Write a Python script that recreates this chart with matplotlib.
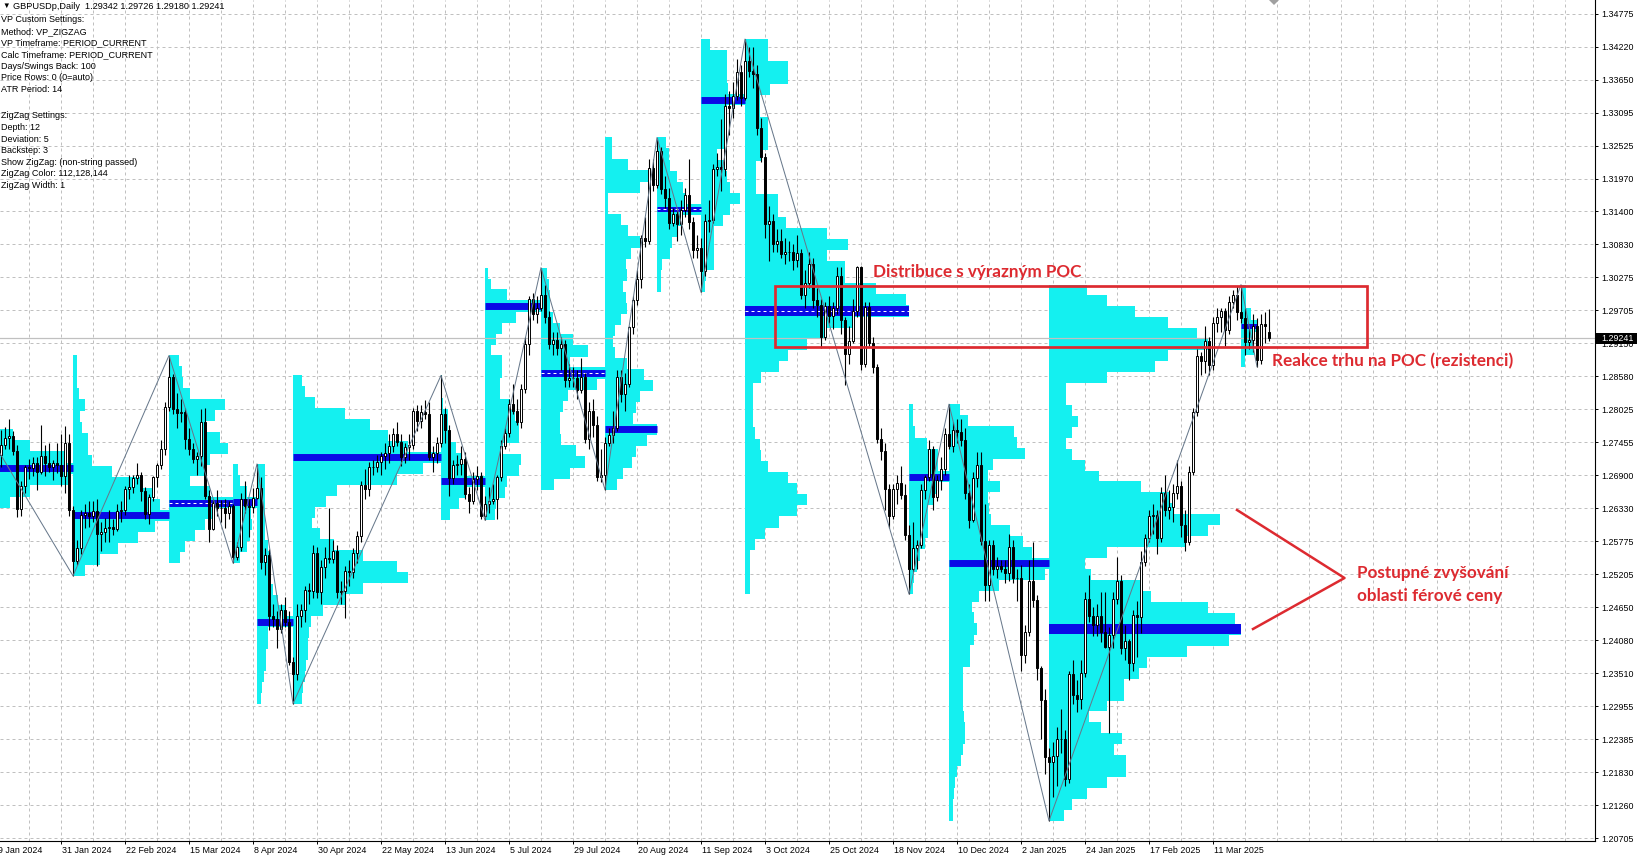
import matplotlib.pyplot as plt
from matplotlib.patches import Rectangle, Polygon
from matplotlib.lines import Line2D
from matplotlib.transforms import blended_transform_factory
import numpy as np

plt.rcParams['font.family'] = ['Liberation Sans', 'DejaVu Sans']

#%% data - GBPUSD daily bars 9 Jan 2024 .. 31 Mar 2025, pips above 1.2000

opens = [
    727, 724, 741, 753, 757, 731, 632, 672, 703, 702,
    710, 695, 722, 710, 704, 710, 707, 689, 745, 631,
    544, 565, 622, 626, 620, 628, 590, 593, 600, 601,
    598, 628, 631, 666, 670, 685, 690, 662, 624, 652,
    686, 708, 735, 806, 857, 802, 796, 797, 752, 734,
    718, 722, 781, 654, 598, 643, 634, 634, 625, 637,
    550, 567, 650, 638, 635, 651, 668, 541, 553, 450,
    444, 427, 459, 440, 371, 351, 450, 460, 494, 492,
    557, 491, 533, 548, 546, 561, 490, 493, 527, 524,
    557, 586, 673, 666, 703, 703, 712, 723, 728, 739,
    760, 746, 720, 738, 742, 800, 782, 798, 795, 720,
    728, 745, 795, 767, 685, 707, 709, 718, 657, 645,
    683, 688, 620, 640, 645, 650, 686, 740, 762, 811,
    800, 780, 837, 914, 990, 965, 975, 998, 960, 914,
    921, 906, 914, 853, 856, 855, 835, 857, 752, 800,
    776, 687, 690, 745, 759, 771, 857, 829, 845, 942,
    988, 1025, 1094, 1090, 1214, 1185, 1243, 1178, 1163, 1120,
    1135, 1118, 1143, 1168, 1122, 1074, 1078, 1039, 1123, 1125,
    1213, 1216, 1212, 1319, 1317, 1337, 1377, 1334, 1396, 1379,
    1375, 1283, 1232, 1118, 1124, 1085, 1089, 1068, 1070, 1070,
    1057, 1069, 998, 1017, 1050, 988, 981, 926, 978, 962,
    975, 1030, 955, 896, 918, 970, 1045, 880, 977, 916,
    875, 751, 731, 667, 620, 666, 676, 656, 588, 530,
    566, 570, 664, 687, 735, 653, 681, 701, 760, 740,
    767, 763, 750, 660, 614, 685, 707, 578, 502, 571,
    530, 534, 530, 523, 568, 515, 514, 383, 423, 510,
    477, 360, 307, 209, 200, 211, 240, 239, 171, 350,
    315, 308, 352, 479, 449, 434, 450, 422, 397, 417,
    478, 509, 395, 406, 369, 451, 448, 542, 582, 620,
    622, 583, 660, 630, 635, 660, 672, 605, 576, 696,
    797, 893, 885, 918, 878, 950, 959, 970, 937, 986,
    998, 968, 958, 917, 921, 944, 886, 947, 934,
]
highs = [
    740, 767, 772, 785, 765, 741, 680, 708, 718, 720,
    720, 775, 742, 745, 716, 745, 760, 773, 760, 638,
    580, 630, 640, 646, 645, 650, 610, 616, 630, 615,
    640, 645, 672, 690, 690, 710, 695, 670, 658, 688,
    710, 750, 815, 894, 862, 830, 820, 805, 770, 745,
    730, 803, 805, 665, 650, 665, 648, 650, 645, 640,
    575, 660, 680, 650, 668, 709, 686, 565, 563, 470,
    458, 470, 482, 458, 380, 470, 470, 500, 505, 570,
    568, 545, 567, 634, 580, 570, 510, 535, 545, 565,
    595, 680, 700, 712, 715, 725, 730, 745, 760, 770,
    780, 760, 745, 760, 805, 810, 810, 818, 815, 740,
    755, 860, 805, 775, 715, 725, 740, 730, 670, 695,
    705, 695, 655, 670, 675, 690, 750, 770, 820, 845,
    820, 845, 925, 995, 1000, 995, 1044, 1015, 970, 935,
    935, 925, 920, 880, 875, 870, 890, 865, 815, 820,
    790, 735, 755, 770, 800, 870, 870, 865, 945, 995,
    1040, 1100, 1130, 1230, 1230, 1266, 1250, 1200, 1180, 1145,
    1140, 1160, 1180, 1230, 1130, 1100, 1095, 1135, 1160, 1220,
    1240, 1298, 1340, 1345, 1360, 1400, 1390, 1434, 1420, 1420,
    1390, 1300, 1240, 1150, 1135, 1110, 1110, 1095, 1090, 1085,
    1100, 1075, 1040, 1070, 1060, 1010, 990, 985, 995, 985,
    1045, 1045, 960, 945, 990, 1047, 1047, 985, 985, 925,
    880, 770, 745, 675, 675, 690, 705, 675, 605, 610,
    580, 675, 690, 750, 740, 690, 720, 770, 811, 780,
    785, 785, 770, 675, 695, 730, 730, 640, 580, 580,
    550, 545, 545, 590, 580, 530, 537, 435, 545, 575,
    485, 365, 325, 225, 235, 260, 290, 255, 355, 375,
    340, 375, 490, 520, 465, 470, 490, 490, 430, 490,
    550, 520, 435, 410, 460, 475, 560, 590, 630, 640,
    630, 670, 690, 665, 675, 715, 680, 630, 705, 805,
    905, 900, 945, 925, 960, 975, 975, 975, 995, 1005,
    1012, 1015, 975, 945, 965, 958, 965, 968, 973,
]
lows = [
    700, 704, 735, 735, 725, 618, 620, 660, 683, 688,
    665, 692, 688, 695, 682, 693, 672, 660, 620, 518,
    537, 555, 600, 602, 610, 535, 560, 575, 576, 588,
    594, 610, 622, 650, 660, 675, 645, 615, 607, 645,
    670, 700, 725, 800, 795, 770, 780, 735, 725, 710,
    690, 705, 650, 575, 597, 620, 610, 600, 615, 540,
    545, 560, 625, 585, 625, 650, 530, 520, 425, 430,
    395, 420, 430, 366, 300, 340, 430, 440, 470, 480,
    480, 470, 515, 540, 540, 480, 470, 446, 500, 515,
    540, 575, 650, 655, 690, 695, 690, 700, 710, 730,
    740, 705, 710, 715, 735, 765, 770, 785, 715, 695,
    710, 738, 745, 655, 675, 690, 690, 650, 625, 640,
    665, 615, 613, 625, 640, 615, 680, 735, 755, 795,
    775, 770, 830, 895, 955, 950, 970, 950, 905, 895,
    895, 870, 840, 840, 840, 820, 830, 745, 735, 755,
    680, 678, 665, 740, 745, 765, 815, 800, 840, 930,
    980, 1010, 1080, 1085, 1175, 1180, 1170, 1145, 1110, 1115,
    1090, 1100, 1130, 1110, 1060, 1060, 1002, 1030, 1105, 1120,
    1200, 1175, 1200, 1270, 1300, 1330, 1320, 1330, 1370, 1350,
    1270, 1225, 1095, 1055, 1070, 1070, 1060, 1050, 1055, 1040,
    1045, 990, 975, 1010, 975, 960, 906, 920, 950, 940,
    965, 930, 844, 880, 915, 960, 870, 875, 910, 865,
    745, 715, 630, 600, 615, 640, 650, 580, 487, 525,
    530, 565, 650, 680, 630, 645, 665, 690, 735, 730,
    745, 740, 650, 600, 610, 670, 570, 475, 475, 520,
    515, 525, 505, 510, 505, 475, 355, 370, 415, 465,
    340, 240, 180, 100, 140, 160, 215, 160, 165, 300,
    285, 290, 345, 440, 415, 415, 405, 395, 249, 395,
    470, 385, 375, 340, 355, 380, 420, 535, 575, 590,
    555, 575, 620, 615, 610, 650, 585, 560, 570, 690,
    790, 860, 865, 860, 870, 935, 935, 910, 930, 975,
    955, 950, 895, 905, 900, 875, 880, 915, 918,
]
closes = [
    724, 741, 753, 757, 731, 632, 672, 703, 702, 710,
    695, 722, 710, 704, 710, 707, 689, 745, 631, 544,
    565, 622, 626, 620, 628, 590, 593, 600, 601, 598,
    628, 631, 666, 670, 685, 690, 662, 624, 652, 686,
    708, 735, 806, 857, 802, 796, 797, 752, 734, 718,
    722, 781, 654, 598, 643, 634, 634, 625, 637, 550,
    567, 650, 638, 635, 651, 668, 541, 553, 450, 444,
    427, 459, 440, 371, 351, 450, 460, 494, 492, 557,
    491, 533, 548, 546, 561, 490, 493, 527, 524, 557,
    586, 673, 666, 703, 703, 712, 723, 728, 739, 760,
    746, 720, 738, 742, 800, 782, 798, 795, 720, 728,
    745, 795, 767, 685, 707, 709, 718, 657, 645, 683,
    688, 620, 640, 645, 650, 686, 740, 762, 811, 800,
    780, 837, 914, 990, 965, 975, 998, 960, 914, 921,
    906, 914, 853, 856, 855, 835, 857, 752, 800, 776,
    687, 690, 745, 759, 771, 857, 829, 845, 942, 988,
    1025, 1094, 1090, 1214, 1185, 1243, 1178, 1163, 1120, 1135,
    1118, 1143, 1168, 1122, 1074, 1078, 1039, 1123, 1125, 1213,
    1216, 1212, 1319, 1317, 1337, 1377, 1334, 1396, 1379, 1375,
    1283, 1232, 1118, 1124, 1085, 1089, 1068, 1070, 1070, 1057,
    1069, 998, 1017, 1050, 988, 981, 926, 978, 962, 975,
    1030, 955, 896, 918, 970, 1045, 880, 977, 916, 875,
    751, 731, 667, 620, 666, 676, 656, 588, 530, 566,
    570, 664, 687, 735, 653, 681, 701, 760, 740, 767,
    763, 750, 660, 614, 685, 707, 578, 502, 571, 530,
    534, 530, 523, 568, 515, 514, 383, 423, 510, 477,
    360, 307, 209, 200, 211, 240, 239, 171, 350, 315,
    308, 352, 479, 449, 434, 450, 422, 397, 417, 478,
    509, 395, 406, 369, 451, 448, 542, 582, 620, 622,
    583, 660, 630, 635, 660, 672, 605, 576, 696, 797,
    893, 885, 918, 878, 950, 959, 970, 937, 986, 998,
    968, 958, 917, 921, 944, 886, 947, 944, 924,
]

date_labels = ["9 Jan 2024", "31 Jan 2024", "22 Feb 2024", "15 Mar 2024", "8 Apr 2024",
               "30 Apr 2024", "22 May 2024", "13 Jun 2024", "5 Jul 2024", "29 Jul 2024",
               "20 Aug 2024", "11 Sep 2024", "3 Oct 2024", "25 Oct 2024", "18 Nov 2024",
               "10 Dec 2024", "2 Jan 2025", "24 Jan 2025", "17 Feb 2025", "11 Mar 2025"]
price_labels = ["1.34775", "1.34220", "1.33650", "1.33095", "1.32525", "1.31970", "1.31400",
                "1.30830", "1.30275", "1.29705", "1.29150", "1.28580", "1.28025", "1.27455",
                "1.26900", "1.26330", "1.25775", "1.25205", "1.24650", "1.24080", "1.23510",
                "1.22955", "1.22385", "1.21830", "1.21260", "1.20705"]

# zigzag swing points (bar index, price)
zz_bars = [-8, 19, 43, 59, 65, 74, 111, 122, 136, 152, 165, 176, 187, 228, 238, 263, 311, 315]
zz_prices = [1.2827, 1.2518, 1.2894, 1.2540, 1.2709, 1.2300, 1.2860, 1.2613, 1.3044, 1.2665,
             1.3266, 1.3002, 1.3434, 1.2487, 1.2811, 1.2100, 1.3015, 1.2875]

# volume profile of each swing, relative volume per price row (top -> bottom)
row_volumes = [
    [0.15, 0.2, 0.28, 0.44, 0.6, 0.93, 1.0, 0.95, 0.6, 0.42, 0.3, 0.25, 0.2, 0.15, 0.1, 0.08],
    [0.04, 0.04, 0.04, 0.06, 0.12, 0.07, 0.09, 0.16, 0.16, 0.2, 0.41, 0.7, 0.82, 0.91, 1.0,
     0.85, 0.68, 0.47, 0.28, 0.12],
    [0.15, 0.2, 0.22, 0.33, 0.87, 0.72, 0.56, 0.8, 0.92, 0.64, 0.56, 0.33, 0.64, 1.0, 0.72,
     0.56, 0.4, 0.25, 0.17],
    [0.2, 0.3, 0.6, 1.0, 0.75, 0.8, 0.7, 0.6, 0.3],
    [0.22, 0.22, 0.22, 0.22, 0.22, 0.22, 0.22, 0.3, 0.35, 0.3, 0.4, 0.45, 0.58, 0.8, 1.0,
     0.3, 0.3, 0.25, 0.25, 0.2, 0.15, 0.1],
    [0.06, 0.08, 0.15, 0.35, 0.52, 0.64, 0.78, 1.0, 0.88, 0.7, 0.3, 0.22, 0.15, 0.13, 0.18,
     0.28, 0.47, 0.7, 0.78, 0.47, 0.36, 0.2, 0.12, 0.11, 0.1, 0.1, 0.09, 0.08, 0.07, 0.06],
    [0.02, 0.02, 0.05, 0.15, 0.15, 0.2, 0.35, 0.45, 0.6, 1.0, 0.55, 0.4, 0.2],
    [0.05, 0.1, 0.4, 1.0, 0.55, 0.3, 0.2, 0.1, 0.3, 0.3, 0.27, 0.27, 0.45, 0.53, 0.6, 0.6,
     0.32, 0.65, 0.6, 0.4, 0.35, 0.2, 0.18],
    [0.1, 0.12, 0.14, 0.14, 0.18, 0.3, 0.5, 0.73, 0.45, 1.0, 0.87, 0.42, 0.35, 0.3, 0.3,
     0.32, 0.55, 0.69, 0.45, 0.2],
    [0.13, 0.13, 0.44, 0.83, 0.67, 0.06, 0.06, 0.3, 0.44, 0.67, 0.5, 0.4, 0.42, 0.35, 0.4,
     0.42, 0.3, 0.2, 0.15, 0.2, 0.42, 0.75, 0.92, 0.67, 0.6, 0.54, 1.0, 0.8, 0.6, 0.52,
     0.35, 0.23],
    [0.2, 0.27, 0.3, 0.45, 0.6, 0.65, 1.0, 0.55, 0.47, 0.35, 0.3, 0.12, 0.1, 0.1],
    [0.2, 0.6, 0.6, 0.6, 0.62, 1.0, 0.6, 0.6, 0.6, 0.58, 0.36, 0.57, 0.6, 0.66, 0.89, 0.66,
     0.5, 0.3, 0.3, 0.3, 0.3, 0.12, 0.1],
    [0.14, 0.14, 0.26, 0.26, 0.15, 0.09, 0.09, 0.14, 0.14, 0.14, 0.1, 0.07, 0.07, 0.07, 0.2,
     0.2, 0.25, 0.5, 0.63, 0.5, 0.61, 0.61, 0.8, 0.98, 1.0, 0.67, 0.5, 0.38, 0.26, 0.21,
     0.1, 0.05, 0.05, 0.05, 0.05, 0.06, 0.09, 0.1, 0.14, 0.26, 0.32, 0.38, 0.32, 0.21, 0.12,
     0.06, 0.03, 0.03, 0.03, 0.03],
    [0.1, 0.1, 0.15, 0.45, 0.73, 0.73, 1.0, 0.7, 0.6, 0.48, 0.48, 0.48, 0.4, 0.28, 0.2,
     0.12, 0.1],
    [0.11, 0.19, 0.65, 0.68, 0.76, 0.44, 0.39, 0.51, 0.39, 0.4, 0.42, 0.61, 0.74, 0.83, 1.0,
     0.96, 0.5, 0.3, 0.23, 0.25, 0.28, 0.25, 0.21, 0.21, 0.14, 0.14, 0.14, 0.14, 0.15, 0.16,
     0.16, 0.14, 0.12, 0.08, 0.06, 0.05, 0.04, 0.04],
    [0.2, 0.3, 0.45, 0.62, 0.77, 0.83, 0.62, 0.55, 0.3, 0.09, 0.09, 0.12, 0.15, 0.12, 0.09,
     0.12, 0.19, 0.26, 0.48, 0.63, 0.65, 0.89, 0.83, 0.71, 0.3, 0.19, 0.22, 0.48, 0.53, 0.83,
     0.97, 1.0, 0.94, 0.72, 0.51, 0.47, 0.39, 0.39, 0.3, 0.21, 0.27, 0.38, 0.34, 0.4, 0.4,
     0.3, 0.2, 0.12, 0.08],
    [0.3, 0.3, 0.65, 1.0, 0.8, 0.8, 0.25],
]
poc_dashed = [False, False, True, False, False, False, False, False, True, False,
              True, False, True, False, False, False, False]

last_price = 1.29241
header = "GBPUSDp,Daily  1.29342 1.29726 1.29180 1.29241"
vp_settings = ["VP Custom Settings:", "Method: VP_ZIGZAG", "VP Timeframe: PERIOD_CURRENT",
               "Calc Timeframe: PERIOD_CURRENT", "Days/Swings Back: 100",
               "Price Rows: 0 (0=auto)", "ATR Period: 14"]
zz_settings = ["ZigZag Settings:", "Depth: 12", "Deviation: 5", "Backstep: 3",
               "Show ZigZag: (non-string passed)", "ZigZag Color: 112,128,144",
               "ZigZag Width: 1"]

#%% figure

CYAN = '#14F0F0'
BLUE = '#0A0AE6'
RED = '#DD2A30'
GRID = '#C0C0C0'
W, H = 1640, 861


def fx(x):
    return x / W


def fy(y):
    return 1 - y / H


fig = plt.figure(figsize=(16.4, 8.61), dpi=100)
ax = fig.add_axes([0, fy(841), fx(1595), fy(0) - fy(841)])
ax.set_xlim(0.75, 399.5)
ax.set_ylim(1.206555, 1.350071)

o = 1.2 + np.array(opens) / 10000
hi = 1.2 + np.array(highs) / 10000
lo = 1.2 + np.array(lows) / 10000
c = 1.2 + np.array(closes) / 10000
x = np.arange(len(c))

# grid
grid_prices = [1.34775 - k * 0.005628 for k in range(len(price_labels))]
for p in grid_prices:
    ax.axhline(p, color=GRID, lw=0.72, ls=(0, (3, 3)), zorder=0.5)
for b in range(0, 400, 8):
    ax.axvline(b, color=GRID, lw=0.72, ls=(0, (3, 3)), zorder=0.5)

# volume profiles + POC
for i, vols in enumerate(row_volumes):
    b0, b1 = zz_bars[i], zz_bars[i + 1]
    top = max(zz_prices[i], zz_prices[i + 1])
    bot = min(zz_prices[i], zz_prices[i + 1])
    n = len(vols)
    h = (top - bot) / n
    centers = top - h * (np.arange(n) + 0.5)
    ax.barh(centers, np.array(vols) * (b1 - b0), height=h * 1.02, left=b0,
            color=CYAN, lw=0, zorder=1)
    k = int(np.argmax(vols))
    lw = 5.0
    if i in (12, 15):
        lw = 7.2
    elif i in (10, 16):
        lw = 3.6
    ax.plot([b0, b1], [centers[k]] * 2, color=BLUE, lw=lw,
            solid_capstyle='butt', zorder=3)
    if poc_dashed[i]:
        ax.plot([b0, b1], [centers[k]] * 2, color='white', lw=0.72,
                ls=(0, (3, 3)), zorder=3.1)

# last price line
ax.axhline(last_price, color=GRID, lw=0.9, zorder=2)

# candles
up = c >= o
ax.vlines(x, lo, hi, color='black', lw=0.8, zorder=4)
body_lo = np.minimum(o, c)
body_h = np.maximum(np.abs(c - o), 0.00004)
ax.bar(x[up], body_h[up], width=0.55, bottom=body_lo[up], facecolor='white',
       edgecolor='black', linewidth=0.7, zorder=5)
ax.bar(x[~up], body_h[~up], width=0.55, bottom=body_lo[~up], facecolor='black',
       edgecolor='black', linewidth=0.7, zorder=5)

# zigzag
ax.plot(zz_bars, zz_prices, color='#66778A', lw=0.72, zorder=6)

# axes
for s in ['top', 'left']:
    ax.spines[s].set_visible(False)
for s in ['right', 'bottom']:
    ax.spines[s].set_linewidth(0.8)
ax.yaxis.tick_right()
ax.set_yticks(grid_prices)
ax.set_yticklabels(price_labels)
ax.tick_params(axis='y', length=2.2, width=0.7, pad=2.4, labelsize=6.4)
date_bars = [16 * k for k in range(len(date_labels))]
ax.set_xticks([b for b in date_bars if b > 0])
ax.tick_params(axis='x', length=2.2, width=0.7, labelbottom=False)
trans = blended_transform_factory(ax.transData, ax.transAxes)
for b, lab in zip(date_bars, date_labels):
    ax.text(b + 0.3, -0.0065, lab, transform=trans, ha='left', va='top',
            fontsize=6.4, clip_on=False)

# current price box
fig.add_artist(Rectangle((fx(1596), fy(344)), fx(1637) - fx(1596), fy(333) - fy(344),
                         transform=fig.transFigure, facecolor='black', lw=0, zorder=5))
fig.text(fx(1601), fy(338.8), "1.29241", color='white', fontsize=6.4, va='center', zorder=6)

# chart shift marker
fig.add_artist(Polygon([(fx(1269), fy(0)), (fx(1279), fy(0)), (fx(1274), fy(5))],
                       closed=True, transform=fig.transFigure, facecolor='#A0A0A0', lw=0))

# info text
fig.text(fx(2.5), fy(6.7), "\u25bc", fontsize=5.5, va='center')
fig.text(fx(13.3), fy(6.7), header, fontsize=6.6, va='center')
for j, line in enumerate(vp_settings):
    fig.text(fx(1.5), fy(20 + 11.6 * j), line, fontsize=6.5, va='center')
for j, line in enumerate(zz_settings):
    fig.text(fx(1.5), fy(116 + 11.6 * j), line, fontsize=6.5, va='center')

# annotations
fig.add_artist(Rectangle((fx(775), fy(346.5)), fx(1366.7) - fx(775), fy(285.5) - fy(346.5),
                         transform=fig.transFigure, fill=False, edgecolor=RED, lw=1.95,
                         zorder=7))
fig.add_artist(Line2D([fx(1237), fx(1344.5), fx(1253)], [fy(510), fy(578), fy(629)],
                      transform=fig.transFigure, color=RED, lw=1.8, zorder=7))
afont = dict(family='Lato', weight='bold', color=RED, fontsize=12.3, va='baseline')
fig.text(fx(873), fy(276.5), "Distribuce s výrazným POC", **afont)
fig.text(fx(1271.7), fy(366.7), "Reakce trhu na POC (rezistenci)", **afont)
fig.text(fx(1356.7), fy(578.3), "Postupné zvyšování", **afont)
fig.text(fx(1356.7), fy(600.7), "oblasti férové ceny", **afont)

fig.savefig('out.png', dpi=100, facecolor='white')
